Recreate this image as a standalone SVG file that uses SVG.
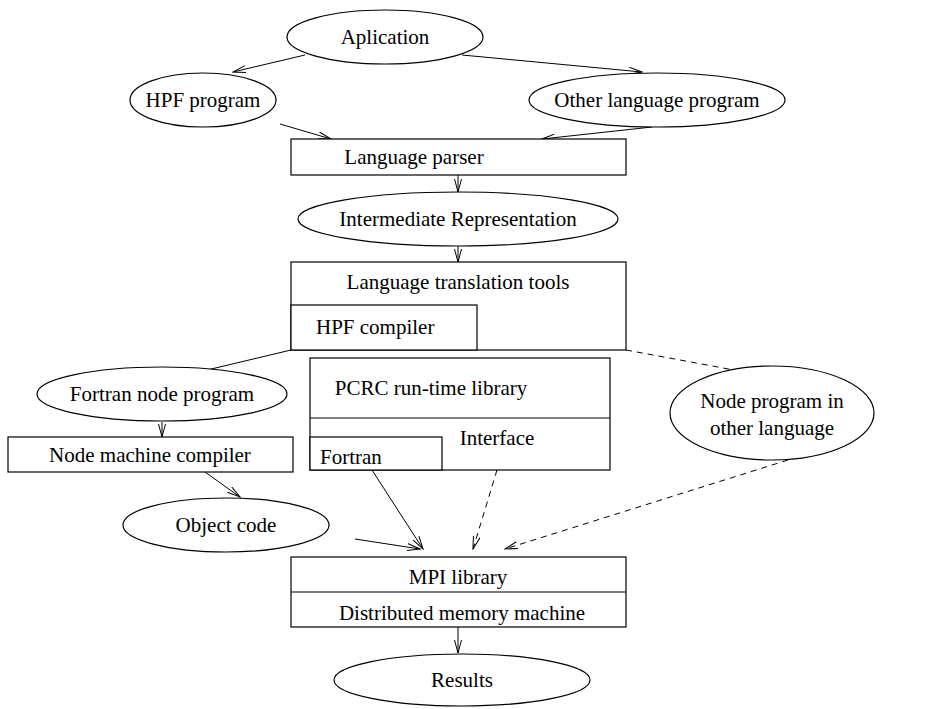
<svg xmlns="http://www.w3.org/2000/svg" width="931" height="709" viewBox="0 0 931 709">
<style>
.s{fill:#fff;stroke:#000;stroke-width:1.2}
.t{font-family:"Liberation Serif","Times New Roman",serif;font-size:21px;fill:#000}
.m{text-anchor:middle}
.c{fill:none;stroke:#000;stroke-width:1}
.d{stroke-dasharray:6 5}
</style>
<defs>
<marker id="a" markerWidth="14" markerHeight="8" refX="13" refY="4" orient="auto" markerUnits="userSpaceOnUse">
<path d="M0,0.5 L13,4 L0,7.5" fill="none" stroke="#000" stroke-width="1"/>
</marker>
</defs>
<rect width="931" height="709" fill="#fff"/>
<g id="connectors">
<line class="c" x1="305" y1="55" x2="233" y2="72" marker-end="url(#a)"/>
<line class="c" x1="462" y1="55" x2="642" y2="72" marker-end="url(#a)"/>
<line class="c" x1="280" y1="124" x2="331" y2="139" marker-end="url(#a)"/>
<line class="c" x1="652" y1="127" x2="542" y2="139" marker-end="url(#a)"/>
<line class="c" x1="458" y1="175" x2="458" y2="192" marker-end="url(#a)"/>
<line class="c" x1="458" y1="246" x2="458" y2="262" marker-end="url(#a)"/>
<line class="c" x1="291" y1="350" x2="165" y2="380" marker-end="url(#a)"/>
<line class="c d" x1="626" y1="350" x2="777" y2="378" marker-end="url(#a)"/>
<line class="c" x1="162" y1="422" x2="162" y2="437" marker-end="url(#a)"/>
<line class="c" x1="205" y1="472" x2="240" y2="497" marker-end="url(#a)"/>
<line class="c" x1="355" y1="539" x2="420" y2="549" marker-end="url(#a)"/>
<line class="c" x1="372" y1="470" x2="423" y2="549" marker-end="url(#a)"/>
<line class="c d" x1="497" y1="470" x2="473" y2="549" marker-end="url(#a)"/>
<line class="c d" x1="788" y1="460" x2="505" y2="549" marker-end="url(#a)"/>
<line class="c" x1="458" y1="627" x2="458" y2="653" marker-end="url(#a)"/>
</g>
<g id="aplication"><ellipse class="s" cx="385" cy="37" rx="98" ry="27"/><text class="t m" x="385" y="44">Aplication</text></g>
<g id="hpf-program"><ellipse class="s" cx="203" cy="100" rx="73" ry="27"/><text class="t m" x="203" y="107">HPF program</text></g>
<g id="other-language-program"><ellipse class="s" cx="657" cy="100" rx="128" ry="27"/><text class="t m" x="657" y="107">Other language program</text></g>
<g id="language-parser"><rect class="s" x="291" y="139" width="335" height="36"/><text class="t m" x="414" y="164">Language parser</text></g>
<g id="intermediate-representation"><ellipse class="s" cx="458" cy="219" rx="160" ry="27"/><text class="t m" x="458" y="226">Intermediate Representation</text></g>
<g id="language-translation-tools"><rect class="s" x="291" y="262" width="335" height="88"/><text class="t m" x="458" y="289">Language translation tools</text></g>
<g id="hpf-compiler"><rect class="s" x="291" y="305" width="186" height="45"/><text class="t" x="316" y="334">HPF compiler</text></g>
<g id="fortran-node-program"><ellipse class="s" cx="162" cy="394" rx="125" ry="27"/><text class="t m" x="162" y="401">Fortran node program</text></g>
<g id="node-machine-compiler"><rect class="s" x="8" y="437" width="285" height="35"/><text class="t m" x="150" y="462">Node machine compiler</text></g>
<g id="object-code"><ellipse class="s" cx="226" cy="525" rx="103" ry="27"/><text class="t m" x="226" y="532">Object code</text></g>
<g id="pcrc-library"><rect class="s" x="310" y="358" width="300" height="112"/><line class="s" x1="310" y1="418" x2="610" y2="418"/><text class="t m" x="431" y="395">PCRC run-time library</text><text class="t m" x="497" y="445">Interface</text></g>
<g id="fortran-interface"><rect class="s" x="310" y="437" width="132" height="33"/><text class="t" x="320" y="464">Fortran</text></g>
<g id="node-program-other"><ellipse class="s" cx="772" cy="413" rx="102" ry="47"/><text class="t m" x="772" y="408">Node program in</text><text class="t m" x="772" y="435">other language</text></g>
<g id="mpi-library"><rect class="s" x="291" y="557" width="335" height="70"/><line class="s" x1="291" y1="592" x2="626" y2="592"/><text class="t m" x="458" y="584">MPI library</text><text class="t m" x="462" y="620">Distributed memory machine</text></g>
<g id="results"><ellipse class="s" cx="462" cy="680" rx="128" ry="26"/><text class="t m" x="462" y="687">Results</text></g>
</svg>
